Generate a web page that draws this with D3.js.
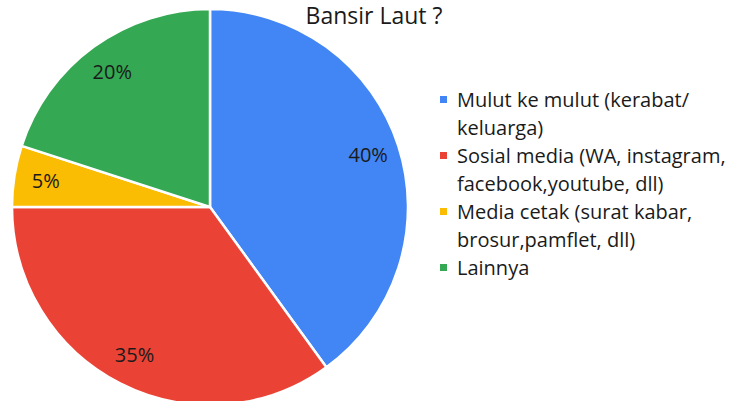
<!DOCTYPE html>
<html>
<head>
<meta charset="utf-8">
<script src="https://cdn.jsdelivr.net/npm/d3@7"></script>
<style>
  body { margin: 0; background: #fff; }
  text { font-family: "Open Sans", sans-serif; fill: #1a1a1a; }
</style>
</head>
<body>
<script>
    // Chart data
    const title = "Bansir Laut ?";
    const categories = [
        "Mulut ke mulut (kerabat/|keluarga)",
        "Sosial media (WA, instagram,|facebook,youtube, dll)",
        "Media cetak (surat kabar,|brosur,pamflet, dll)",
        "Lainnya"
    ];
    const values = [40, 35, 5, 20];
    const colors = ["#4285f4", "#ea4335", "#fbbc04", "#34a853"];

    const width = 732;
    const height = 401;

    const svg = d3.select("body")
        .append("svg")
        .attr("width", width)
        .attr("height", height);

    // Pie layout
    const cx = 210, cy = 207, radius = 198;
    const data = values.map((v, i) => ({ name: categories[i], value: v, color: colors[i] }));

    const pie = d3.pie()
        .value(d => d.value)
        .sort(null);

    const arc = d3.arc().innerRadius(0).outerRadius(radius);
    const labelArc = d3.arc().innerRadius(radius * 0.84).outerRadius(radius * 0.84);

    const g = svg.append("g")
        .attr("transform", `translate(${cx},${cy})`);

    g.selectAll("path")
        .data(pie(data))
        .enter()
        .append("path")
        .attr("d", arc)
        .attr("fill", d => d.data.color)
        .attr("stroke", "#fff")
        .attr("stroke-width", 2.5)
        .attr("stroke-linejoin", "round");

    // Percent labels
    const total = d3.sum(values);
    g.selectAll(".lbl")
        .data(pie(data))
        .enter()
        .append("text")
        .attr("class", "lbl")
        .attr("transform", d => `translate(${labelArc.centroid(d)})`)
        .attr("text-anchor", "middle")
        .attr("dy", "0.33em")
        .attr("font-size", 20)
        .text(d => Math.round(d.data.value / total * 100) + "%");

    // Title
    svg.append("text")
        .attr("x", 374)
        .attr("y", 24)
        .attr("text-anchor", "middle")
        .attr("font-size", 23)
        .text(title);

    // Legend
    const legendX = 440;
    const lineH = 28;
    let row = 0;
    const legend = svg.append("g");

    data.forEach(d => {
        const lines = d.name.split("|");
        const baseY = 107 + row * lineH;
        legend.append("rect")
            .attr("x", legendX)
            .attr("y", baseY - 11)
            .attr("width", 7)
            .attr("height", 7)
            .attr("fill", d.color);
        lines.forEach((t, j) => {
            legend.append("text")
                .attr("x", legendX + 17)
                .attr("y", baseY + j * lineH)
                .attr("font-size", 20)
                .text(t);
        });
        row += lines.length;
    });
</script>
</body>
</html>
